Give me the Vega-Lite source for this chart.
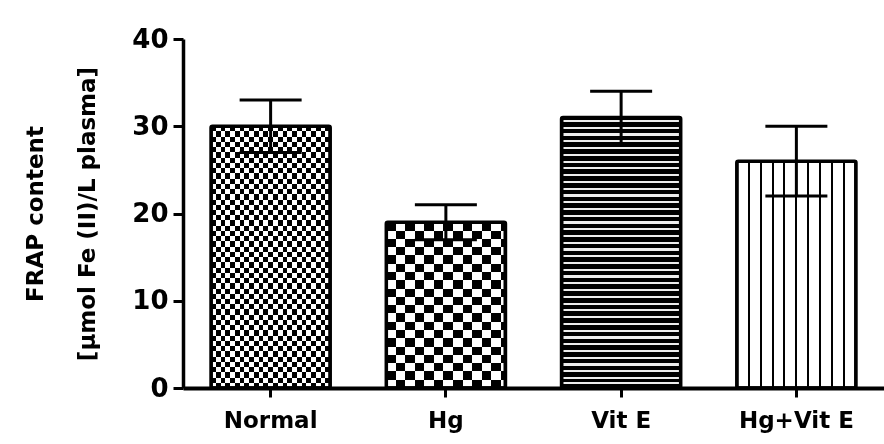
{
 "$schema": "https://vega.github.io/schema/vega-lite/v6.json",
 "width": 701,
 "height": 349,
 "autosize": {"type": "none"},
 "padding": {"left": 183, "top": 39, "right": 0, "bottom": 56},
 "background": "#ffffff",
 "config": {
  "view": {"stroke": null},
  "font": "DejaVu Sans",
  "axis": {"grid": false, "domainColor": "#000", "tickColor": "#000", "labelColor": "#000", "titleColor": "#000", "labelFont": "DejaVu Sans", "titleFont": "DejaVu Sans", "labelFontWeight": "bold", "titleFontWeight": "bold"}
 },
 "data": {"values": [
  {"group": "Normal", "mean": 30, "lower": 27, "upper": 33},
  {"group": "Hg", "mean": 19, "lower": 17, "upper": 21},
  {"group": "Vit E", "mean": 31, "lower": 28, "upper": 34},
  {"group": "Hg+Vit E", "mean": 26, "lower": 22, "upper": 30}
 ]},
 "encoding": {
  "x": {"field": "group", "type": "nominal", "sort": null,
   "scale": {"domain": ["Normal", "Hg", "Vit E", "Hg+Vit E"], "paddingInner": 0.32, "paddingOuter": 0.16},
   "axis": {"title": null, "labelAngle": 0, "domainWidth": 4, "tickWidth": 3, "tickSize": 9, "labelFontSize": 23, "labelPadding": 12}},
  "y": {"field": "mean", "type": "quantitative", "title": ["FRAP content", "[µmol Fe (II)/L plasma]"],
   "scale": {"domain": [0, 40], "nice": false},
   "axis": {"values": [0, 10, 20, 30, 40], "domainWidth": 3.5, "tickWidth": 3, "tickSize": 10, "labelFontSize": 26, "labelPadding": 5, "titleFontSize": 23, "titleLineHeight": 52, "titlePadding": 32}}
 },
 "layer": [
  {"transform": [{"filter": "datum.group === 'Normal'"}],
   "mark": {"type": "bar", "strokeWidth": 0, "opacity": 1, "fill": {"gradient": "linear", "x1": 0, "y1": 0, "x2": 1, "y2": 0, "stops": [
    {"offset": 0, "color": "#000"}, {"offset": 0.04, "color": "#000"}, {"offset": 0.04, "color": "#fff"}, {"offset": 0.08, "color": "#fff"},
    {"offset": 0.08, "color": "#000"}, {"offset": 0.12, "color": "#000"}, {"offset": 0.12, "color": "#fff"}, {"offset": 0.16, "color": "#fff"},
    {"offset": 0.16, "color": "#000"}, {"offset": 0.2, "color": "#000"}, {"offset": 0.2, "color": "#fff"}, {"offset": 0.24, "color": "#fff"},
    {"offset": 0.24, "color": "#000"}, {"offset": 0.28, "color": "#000"}, {"offset": 0.28, "color": "#fff"}, {"offset": 0.32, "color": "#fff"},
    {"offset": 0.32, "color": "#000"}, {"offset": 0.36, "color": "#000"}, {"offset": 0.36, "color": "#fff"}, {"offset": 0.4, "color": "#fff"},
    {"offset": 0.4, "color": "#000"}, {"offset": 0.44, "color": "#000"}, {"offset": 0.44, "color": "#fff"}, {"offset": 0.48, "color": "#fff"},
    {"offset": 0.48, "color": "#000"}, {"offset": 0.52, "color": "#000"}, {"offset": 0.52, "color": "#fff"}, {"offset": 0.56, "color": "#fff"},
    {"offset": 0.56, "color": "#000"}, {"offset": 0.6, "color": "#000"}, {"offset": 0.6, "color": "#fff"}, {"offset": 0.64, "color": "#fff"},
    {"offset": 0.64, "color": "#000"}, {"offset": 0.68, "color": "#000"}, {"offset": 0.68, "color": "#fff"}, {"offset": 0.72, "color": "#fff"},
    {"offset": 0.72, "color": "#000"}, {"offset": 0.76, "color": "#000"}, {"offset": 0.76, "color": "#fff"}, {"offset": 0.8, "color": "#fff"},
    {"offset": 0.8, "color": "#000"}, {"offset": 0.84, "color": "#000"}, {"offset": 0.84, "color": "#fff"}, {"offset": 0.88, "color": "#fff"},
    {"offset": 0.88, "color": "#000"}, {"offset": 0.92, "color": "#000"}, {"offset": 0.92, "color": "#fff"}, {"offset": 0.96, "color": "#fff"},
    {"offset": 0.96, "color": "#000"}, {"offset": 1, "color": "#000"}]}}},
  {"transform": [{"filter": "datum.group === 'Normal'"}],
   "mark": {"type": "bar", "strokeWidth": 0, "opacity": 1, "blend": "difference", "fill": {"gradient": "linear", "x1": 0, "y1": 0, "x2": 0, "y2": 1, "stops": [
    {"offset": 0, "color": "#000"}, {"offset": 0.02, "color": "#000"}, {"offset": 0.02, "color": "#fff"}, {"offset": 0.04, "color": "#fff"},
    {"offset": 0.04, "color": "#000"}, {"offset": 0.06, "color": "#000"}, {"offset": 0.06, "color": "#fff"}, {"offset": 0.08, "color": "#fff"},
    {"offset": 0.08, "color": "#000"}, {"offset": 0.1, "color": "#000"}, {"offset": 0.1, "color": "#fff"}, {"offset": 0.12, "color": "#fff"},
    {"offset": 0.12, "color": "#000"}, {"offset": 0.14, "color": "#000"}, {"offset": 0.14, "color": "#fff"}, {"offset": 0.16, "color": "#fff"},
    {"offset": 0.16, "color": "#000"}, {"offset": 0.18, "color": "#000"}, {"offset": 0.18, "color": "#fff"}, {"offset": 0.2, "color": "#fff"},
    {"offset": 0.2, "color": "#000"}, {"offset": 0.22, "color": "#000"}, {"offset": 0.22, "color": "#fff"}, {"offset": 0.24, "color": "#fff"},
    {"offset": 0.24, "color": "#000"}, {"offset": 0.26, "color": "#000"}, {"offset": 0.26, "color": "#fff"}, {"offset": 0.28, "color": "#fff"},
    {"offset": 0.28, "color": "#000"}, {"offset": 0.3, "color": "#000"}, {"offset": 0.3, "color": "#fff"}, {"offset": 0.32, "color": "#fff"},
    {"offset": 0.32, "color": "#000"}, {"offset": 0.34, "color": "#000"}, {"offset": 0.34, "color": "#fff"}, {"offset": 0.36, "color": "#fff"},
    {"offset": 0.36, "color": "#000"}, {"offset": 0.38, "color": "#000"}, {"offset": 0.38, "color": "#fff"}, {"offset": 0.4, "color": "#fff"},
    {"offset": 0.4, "color": "#000"}, {"offset": 0.42, "color": "#000"}, {"offset": 0.42, "color": "#fff"}, {"offset": 0.44, "color": "#fff"},
    {"offset": 0.44, "color": "#000"}, {"offset": 0.46, "color": "#000"}, {"offset": 0.46, "color": "#fff"}, {"offset": 0.48, "color": "#fff"},
    {"offset": 0.48, "color": "#000"}, {"offset": 0.5, "color": "#000"}, {"offset": 0.5, "color": "#fff"}, {"offset": 0.52, "color": "#fff"},
    {"offset": 0.52, "color": "#000"}, {"offset": 0.54, "color": "#000"}, {"offset": 0.54, "color": "#fff"}, {"offset": 0.56, "color": "#fff"},
    {"offset": 0.56, "color": "#000"}, {"offset": 0.58, "color": "#000"}, {"offset": 0.58, "color": "#fff"}, {"offset": 0.6, "color": "#fff"},
    {"offset": 0.6, "color": "#000"}, {"offset": 0.62, "color": "#000"}, {"offset": 0.62, "color": "#fff"}, {"offset": 0.64, "color": "#fff"},
    {"offset": 0.64, "color": "#000"}, {"offset": 0.66, "color": "#000"}, {"offset": 0.66, "color": "#fff"}, {"offset": 0.68, "color": "#fff"},
    {"offset": 0.68, "color": "#000"}, {"offset": 0.7, "color": "#000"}, {"offset": 0.7, "color": "#fff"}, {"offset": 0.72, "color": "#fff"},
    {"offset": 0.72, "color": "#000"}, {"offset": 0.74, "color": "#000"}, {"offset": 0.74, "color": "#fff"}, {"offset": 0.76, "color": "#fff"},
    {"offset": 0.76, "color": "#000"}, {"offset": 0.78, "color": "#000"}, {"offset": 0.78, "color": "#fff"}, {"offset": 0.8, "color": "#fff"},
    {"offset": 0.8, "color": "#000"}, {"offset": 0.82, "color": "#000"}, {"offset": 0.82, "color": "#fff"}, {"offset": 0.84, "color": "#fff"},
    {"offset": 0.84, "color": "#000"}, {"offset": 0.86, "color": "#000"}, {"offset": 0.86, "color": "#fff"}, {"offset": 0.88, "color": "#fff"},
    {"offset": 0.88, "color": "#000"}, {"offset": 0.9, "color": "#000"}, {"offset": 0.9, "color": "#fff"}, {"offset": 0.92, "color": "#fff"},
    {"offset": 0.92, "color": "#000"}, {"offset": 0.94, "color": "#000"}, {"offset": 0.94, "color": "#fff"}, {"offset": 0.96, "color": "#fff"},
    {"offset": 0.96, "color": "#000"}, {"offset": 0.98, "color": "#000"}, {"offset": 0.98, "color": "#fff"}, {"offset": 1, "color": "#fff"}]}}},
  {"transform": [{"filter": "datum.group === 'Hg'"}],
   "mark": {"type": "bar", "strokeWidth": 0, "opacity": 1, "fill": {"gradient": "linear", "x1": 0, "y1": 0, "x2": 1, "y2": 0, "stops": [
    {"offset": 0, "color": "#000"}, {"offset": 0.08, "color": "#000"}, {"offset": 0.08, "color": "#fff"}, {"offset": 0.16, "color": "#fff"},
    {"offset": 0.16, "color": "#000"}, {"offset": 0.24, "color": "#000"}, {"offset": 0.24, "color": "#fff"}, {"offset": 0.32, "color": "#fff"},
    {"offset": 0.32, "color": "#000"}, {"offset": 0.4, "color": "#000"}, {"offset": 0.4, "color": "#fff"}, {"offset": 0.48, "color": "#fff"},
    {"offset": 0.48, "color": "#000"}, {"offset": 0.56, "color": "#000"}, {"offset": 0.56, "color": "#fff"}, {"offset": 0.64, "color": "#fff"},
    {"offset": 0.64, "color": "#000"}, {"offset": 0.72, "color": "#000"}, {"offset": 0.72, "color": "#fff"}, {"offset": 0.8, "color": "#fff"},
    {"offset": 0.8, "color": "#000"}, {"offset": 0.88, "color": "#000"}, {"offset": 0.88, "color": "#fff"}, {"offset": 0.96, "color": "#fff"},
    {"offset": 0.96, "color": "#000"}, {"offset": 1, "color": "#000"}]}}},
  {"transform": [{"filter": "datum.group === 'Hg'"}],
   "mark": {"type": "bar", "strokeWidth": 0, "opacity": 1, "blend": "difference", "fill": {"gradient": "linear", "x1": 0, "y1": 0, "x2": 0, "y2": 1, "stops": [
    {"offset": 0, "color": "#000"}, {"offset": 0.05, "color": "#000"}, {"offset": 0.05, "color": "#fff"}, {"offset": 0.1, "color": "#fff"},
    {"offset": 0.1, "color": "#000"}, {"offset": 0.15, "color": "#000"}, {"offset": 0.15, "color": "#fff"}, {"offset": 0.2, "color": "#fff"},
    {"offset": 0.2, "color": "#000"}, {"offset": 0.25, "color": "#000"}, {"offset": 0.25, "color": "#fff"}, {"offset": 0.3, "color": "#fff"},
    {"offset": 0.3, "color": "#000"}, {"offset": 0.35, "color": "#000"}, {"offset": 0.35, "color": "#fff"}, {"offset": 0.4, "color": "#fff"},
    {"offset": 0.4, "color": "#000"}, {"offset": 0.45, "color": "#000"}, {"offset": 0.45, "color": "#fff"}, {"offset": 0.5, "color": "#fff"},
    {"offset": 0.5, "color": "#000"}, {"offset": 0.55, "color": "#000"}, {"offset": 0.55, "color": "#fff"}, {"offset": 0.6, "color": "#fff"},
    {"offset": 0.6, "color": "#000"}, {"offset": 0.65, "color": "#000"}, {"offset": 0.65, "color": "#fff"}, {"offset": 0.7, "color": "#fff"},
    {"offset": 0.7, "color": "#000"}, {"offset": 0.75, "color": "#000"}, {"offset": 0.75, "color": "#fff"}, {"offset": 0.8, "color": "#fff"},
    {"offset": 0.8, "color": "#000"}, {"offset": 0.85, "color": "#000"}, {"offset": 0.85, "color": "#fff"}, {"offset": 0.9, "color": "#fff"},
    {"offset": 0.9, "color": "#000"}, {"offset": 0.95, "color": "#000"}, {"offset": 0.95, "color": "#fff"}, {"offset": 1, "color": "#fff"}]}}},
  {"transform": [{"filter": "datum.group === 'Vit E'"}],
   "mark": {"type": "bar", "strokeWidth": 0, "opacity": 1, "fill": {"gradient": "linear", "x1": 0, "y1": 0, "x2": 0, "y2": 1, "stops": [
    {"offset": 0, "color": "#000"},
    {"offset": 0.009, "color": "#000"}, {"offset": 0.009, "color": "#eee"}, {"offset": 0.017, "color": "#eee"}, {"offset": 0.017, "color": "#000"},
    {"offset": 0.034, "color": "#000"}, {"offset": 0.034, "color": "#eee"}, {"offset": 0.042, "color": "#eee"}, {"offset": 0.042, "color": "#000"},
    {"offset": 0.059, "color": "#000"}, {"offset": 0.059, "color": "#eee"}, {"offset": 0.067, "color": "#eee"}, {"offset": 0.067, "color": "#000"},
    {"offset": 0.084, "color": "#000"}, {"offset": 0.084, "color": "#eee"}, {"offset": 0.092, "color": "#eee"}, {"offset": 0.092, "color": "#000"},
    {"offset": 0.109, "color": "#000"}, {"offset": 0.109, "color": "#eee"}, {"offset": 0.117, "color": "#eee"}, {"offset": 0.117, "color": "#000"},
    {"offset": 0.134, "color": "#000"}, {"offset": 0.134, "color": "#eee"}, {"offset": 0.142, "color": "#eee"}, {"offset": 0.142, "color": "#000"},
    {"offset": 0.159, "color": "#000"}, {"offset": 0.159, "color": "#eee"}, {"offset": 0.167, "color": "#eee"}, {"offset": 0.167, "color": "#000"},
    {"offset": 0.184, "color": "#000"}, {"offset": 0.184, "color": "#eee"}, {"offset": 0.192, "color": "#eee"}, {"offset": 0.192, "color": "#000"},
    {"offset": 0.209, "color": "#000"}, {"offset": 0.209, "color": "#eee"}, {"offset": 0.217, "color": "#eee"}, {"offset": 0.217, "color": "#000"},
    {"offset": 0.234, "color": "#000"}, {"offset": 0.234, "color": "#eee"}, {"offset": 0.242, "color": "#eee"}, {"offset": 0.242, "color": "#000"},
    {"offset": 0.259, "color": "#000"}, {"offset": 0.259, "color": "#eee"}, {"offset": 0.267, "color": "#eee"}, {"offset": 0.267, "color": "#000"},
    {"offset": 0.284, "color": "#000"}, {"offset": 0.284, "color": "#eee"}, {"offset": 0.292, "color": "#eee"}, {"offset": 0.292, "color": "#000"},
    {"offset": 0.309, "color": "#000"}, {"offset": 0.309, "color": "#eee"}, {"offset": 0.317, "color": "#eee"}, {"offset": 0.317, "color": "#000"},
    {"offset": 0.334, "color": "#000"}, {"offset": 0.334, "color": "#eee"}, {"offset": 0.342, "color": "#eee"}, {"offset": 0.342, "color": "#000"},
    {"offset": 0.359, "color": "#000"}, {"offset": 0.359, "color": "#eee"}, {"offset": 0.367, "color": "#eee"}, {"offset": 0.367, "color": "#000"},
    {"offset": 0.384, "color": "#000"}, {"offset": 0.384, "color": "#eee"}, {"offset": 0.392, "color": "#eee"}, {"offset": 0.392, "color": "#000"},
    {"offset": 0.409, "color": "#000"}, {"offset": 0.409, "color": "#eee"}, {"offset": 0.417, "color": "#eee"}, {"offset": 0.417, "color": "#000"},
    {"offset": 0.434, "color": "#000"}, {"offset": 0.434, "color": "#eee"}, {"offset": 0.442, "color": "#eee"}, {"offset": 0.442, "color": "#000"},
    {"offset": 0.459, "color": "#000"}, {"offset": 0.459, "color": "#eee"}, {"offset": 0.467, "color": "#eee"}, {"offset": 0.467, "color": "#000"},
    {"offset": 0.484, "color": "#000"}, {"offset": 0.484, "color": "#eee"}, {"offset": 0.492, "color": "#eee"}, {"offset": 0.492, "color": "#000"},
    {"offset": 0.509, "color": "#000"}, {"offset": 0.509, "color": "#eee"}, {"offset": 0.517, "color": "#eee"}, {"offset": 0.517, "color": "#000"},
    {"offset": 0.534, "color": "#000"}, {"offset": 0.534, "color": "#eee"}, {"offset": 0.542, "color": "#eee"}, {"offset": 0.542, "color": "#000"},
    {"offset": 0.559, "color": "#000"}, {"offset": 0.559, "color": "#eee"}, {"offset": 0.567, "color": "#eee"}, {"offset": 0.567, "color": "#000"},
    {"offset": 0.584, "color": "#000"}, {"offset": 0.584, "color": "#eee"}, {"offset": 0.592, "color": "#eee"}, {"offset": 0.592, "color": "#000"},
    {"offset": 0.609, "color": "#000"}, {"offset": 0.609, "color": "#eee"}, {"offset": 0.617, "color": "#eee"}, {"offset": 0.617, "color": "#000"},
    {"offset": 0.634, "color": "#000"}, {"offset": 0.634, "color": "#eee"}, {"offset": 0.642, "color": "#eee"}, {"offset": 0.642, "color": "#000"},
    {"offset": 0.659, "color": "#000"}, {"offset": 0.659, "color": "#eee"}, {"offset": 0.667, "color": "#eee"}, {"offset": 0.667, "color": "#000"},
    {"offset": 0.684, "color": "#000"}, {"offset": 0.684, "color": "#eee"}, {"offset": 0.692, "color": "#eee"}, {"offset": 0.692, "color": "#000"},
    {"offset": 0.709, "color": "#000"}, {"offset": 0.709, "color": "#eee"}, {"offset": 0.717, "color": "#eee"}, {"offset": 0.717, "color": "#000"},
    {"offset": 0.734, "color": "#000"}, {"offset": 0.734, "color": "#eee"}, {"offset": 0.742, "color": "#eee"}, {"offset": 0.742, "color": "#000"},
    {"offset": 0.759, "color": "#000"}, {"offset": 0.759, "color": "#eee"}, {"offset": 0.767, "color": "#eee"}, {"offset": 0.767, "color": "#000"},
    {"offset": 0.784, "color": "#000"}, {"offset": 0.784, "color": "#eee"}, {"offset": 0.792, "color": "#eee"}, {"offset": 0.792, "color": "#000"},
    {"offset": 0.809, "color": "#000"}, {"offset": 0.809, "color": "#eee"}, {"offset": 0.817, "color": "#eee"}, {"offset": 0.817, "color": "#000"},
    {"offset": 0.834, "color": "#000"}, {"offset": 0.834, "color": "#eee"}, {"offset": 0.842, "color": "#eee"}, {"offset": 0.842, "color": "#000"},
    {"offset": 0.859, "color": "#000"}, {"offset": 0.859, "color": "#eee"}, {"offset": 0.867, "color": "#eee"}, {"offset": 0.867, "color": "#000"},
    {"offset": 0.884, "color": "#000"}, {"offset": 0.884, "color": "#eee"}, {"offset": 0.892, "color": "#eee"}, {"offset": 0.892, "color": "#000"},
    {"offset": 0.909, "color": "#000"}, {"offset": 0.909, "color": "#eee"}, {"offset": 0.917, "color": "#eee"}, {"offset": 0.917, "color": "#000"},
    {"offset": 0.934, "color": "#000"}, {"offset": 0.934, "color": "#eee"}, {"offset": 0.942, "color": "#eee"}, {"offset": 0.942, "color": "#000"},
    {"offset": 0.959, "color": "#000"}, {"offset": 0.959, "color": "#eee"}, {"offset": 0.967, "color": "#eee"}, {"offset": 0.967, "color": "#000"},
    {"offset": 0.978, "color": "#000"}, {"offset": 0.978, "color": "#eee"}, {"offset": 0.985, "color": "#eee"}, {"offset": 0.985, "color": "#000"},
    {"offset": 1, "color": "#000"}]}}},
  {"transform": [{"filter": "datum.group === 'Hg+Vit E'"}],
   "mark": {"type": "bar", "strokeWidth": 0, "opacity": 1, "fill": {"gradient": "linear", "x1": 0, "y1": 0, "x2": 1, "y2": 0, "stops": [
    {"offset": 0, "color": "#fff"},
    {"offset": 0.0915, "color": "#fff"}, {"offset": 0.0915, "color": "#000"}, {"offset": 0.1085, "color": "#000"}, {"offset": 0.1085, "color": "#fff"},
    {"offset": 0.1915, "color": "#fff"}, {"offset": 0.1915, "color": "#000"}, {"offset": 0.2085, "color": "#000"}, {"offset": 0.2085, "color": "#fff"},
    {"offset": 0.2915, "color": "#fff"}, {"offset": 0.2915, "color": "#000"}, {"offset": 0.3085, "color": "#000"}, {"offset": 0.3085, "color": "#fff"},
    {"offset": 0.3915, "color": "#fff"}, {"offset": 0.3915, "color": "#000"}, {"offset": 0.4085, "color": "#000"}, {"offset": 0.4085, "color": "#fff"},
    {"offset": 0.4915, "color": "#fff"}, {"offset": 0.4915, "color": "#000"}, {"offset": 0.5085, "color": "#000"}, {"offset": 0.5085, "color": "#fff"},
    {"offset": 0.5915, "color": "#fff"}, {"offset": 0.5915, "color": "#000"}, {"offset": 0.6085, "color": "#000"}, {"offset": 0.6085, "color": "#fff"},
    {"offset": 0.6915, "color": "#fff"}, {"offset": 0.6915, "color": "#000"}, {"offset": 0.7085, "color": "#000"}, {"offset": 0.7085, "color": "#fff"},
    {"offset": 0.7915, "color": "#fff"}, {"offset": 0.7915, "color": "#000"}, {"offset": 0.8085, "color": "#000"}, {"offset": 0.8085, "color": "#fff"},
    {"offset": 0.8915, "color": "#fff"}, {"offset": 0.8915, "color": "#000"}, {"offset": 0.9085, "color": "#000"}, {"offset": 0.9085, "color": "#fff"},
    {"offset": 1, "color": "#fff"}]}}},
  {"mark": {"type": "bar", "fillOpacity": 0, "stroke": "#000", "strokeWidth": 3.5, "strokeOpacity": 1, "cornerRadius": 1.5}},
  {"mark": {"type": "rule", "color": "#000", "strokeWidth": 3, "opacity": 1},
   "encoding": {"y": {"field": "lower", "type": "quantitative", "title": ["FRAP content", "[µmol Fe (II)/L plasma]"], "scale": {"domain": [0, 40], "nice": false}}, "y2": {"field": "upper"}}},
  {"mark": {"type": "tick", "color": "#000", "size": 62, "thickness": 3, "opacity": 1},
   "encoding": {"y": {"field": "upper", "type": "quantitative", "title": ["FRAP content", "[µmol Fe (II)/L plasma]"], "scale": {"domain": [0, 40], "nice": false}}}},
  {"mark": {"type": "tick", "color": "#000", "size": 62, "thickness": 3, "opacity": 1},
   "encoding": {"y": {"field": "lower", "type": "quantitative", "title": ["FRAP content", "[µmol Fe (II)/L plasma]"], "scale": {"domain": [0, 40], "nice": false}}}}
 ]
}
